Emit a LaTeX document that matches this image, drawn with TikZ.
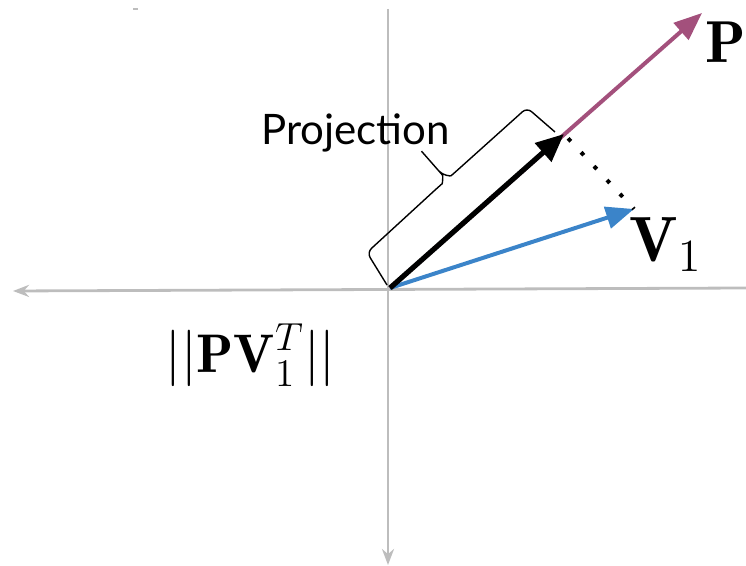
\documentclass[tikz,border=0pt]{standalone}
\usepackage{fontspec}
\usepackage{graphicx}
\newfontfamily\lato{Lato}
\usetikzlibrary{arrows.meta}
\definecolor{pcol}{HTML}{A3507C}
\definecolor{vcol}{HTML}{3B84C9}
\definecolor{axcol}{HTML}{BDBDBD}
\begin{document}
\begin{tikzpicture}[x=0.5pt,y=-0.5pt,
 axis/.style={draw=axcol,line width=1.4pt,-{Stealth[length=8pt,width=6pt]}},
 vec/.style={line width=2pt,-{Triangle[length=14pt,width=11pt]}},
 brace/.style={draw,line width=0.7pt,rounded corners=3pt},
 lbl/.style={inner sep=0pt,anchor=base west,font=\fontsize{20}{24}\selectfont}]
\useasboundingbox (0,0) rectangle (746,566);
\coordinate (ytop) at (388,9);\coordinate (ybot) at (388,565);
\coordinate (xright) at (746,288);\coordinate (xleft) at (13,291);
\draw[axis] (ytop)--(ybot);\draw[axis] (xright)--(xleft);
\draw[axcol,line width=0.8pt] (133,9)--(138,9);
\coordinate (O) at (390,288);
\coordinate (Ptip) at (702,13);\coordinate (Jtip) at (564,134);\coordinate (Vtip) at (634,209);
\draw[vec,pcol] (O)--(Ptip);
\draw[vec,vcol] (O)--(Vtip);
\draw[line width=2pt,dash pattern=on 2pt off 7.5pt,dash phase=-3pt] (Jtip)--(Vtip);
\draw[vec,line width=2.6pt,-{Triangle[length=14pt,width=12pt]}] (O)--(Jtip);
\coordinate (E1) at (387,285);\coordinate (C1) at (367,252.5);
\coordinate (B1) at (437.6,187.7);\coordinate (S) at (438.6,170.7);\coordinate (T) at (421.5,151.2);
\coordinate (B2) at (455.6,171.8);\coordinate (C2) at (527,107.7);\coordinate (E2) at (555,132);
\draw[brace] (E1)--(C1)--(B1) to[out=41.3,in=311.3] (S)--(T) (S) to[out=311.3,in=221.3] (B2)--(C2)--(E2);
\node[inner sep=0pt,anchor=base west,font=\lato\fontsize{21}{25}\selectfont] (projlbl) at (261,145) {Projection};
\node[lbl] (plbl) at (705,63) {\scalebox{1.48}{$\mathbf{P}$}};
\node[lbl] (vlbl) at (629,262) {\scalebox{1.6}{$\mathbf{V}_1$}};
\node[lbl] (normlbl) at (165,373) {\scalebox{1.36}{$||\mathbf{PV}_1^T||$}};
\end{tikzpicture}
\end{document}
